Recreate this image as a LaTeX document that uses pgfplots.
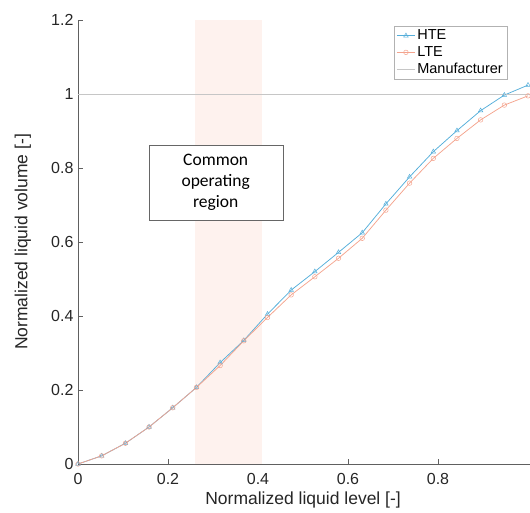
\documentclass[border=0pt]{standalone}
\usepackage{pgfplots}
\pgfplotsset{compat=1.18}
\usepackage{fontspec}
\setmainfont{Liberation Sans}
\newfontfamily\calib{Carlito}
\definecolor{hte}{HTML}{55AEDA}
\definecolor{lte}{HTML}{F4A48E}
\definecolor{shade}{HTML}{FEF2EE}
\definecolor{axc}{HTML}{606060}
\begin{document}
\begin{tikzpicture}
\path[use as bounding box] (-78pt,-49pt) rectangle (452pt,464pt);
\begin{axis}[
  at={(0,0)}, anchor=south west,
  scale only axis, width=452pt, height=444pt,
  xmin=0, xmax=1.0044, ymin=0, ymax=1.2,
  axis lines=left, axis line style={-, axc, line width=0.8pt},
  xtick={0,0.2,0.4,0.6,0.8}, ytick={0,0.2,0.4,0.6,0.8,1,1.2},
  xticklabels={0,0.2,0.4,0.6,0.8},
  yticklabels={0,0.2,0.4,0.6,0.8,1,1.2},
  tick align=inside, major tick length=5pt, tick style={axc, line width=0.6pt},
  ticklabel style={font=\fontsize{16}{18}\selectfont, text=black!85},
  xticklabel style={yshift=-6pt},
  yticklabel style={xshift=-1pt},
  /pgf/number format/assume math mode=true,
  xlabel={Normalized liquid level [-]},
  ylabel={Normalized liquid volume [-]},
  label style={font=\fontsize{17.5}{20}\selectfont, text=black!85},
  xlabel style={at={(axis description cs:0.498,-0.080)}, anchor=center},
  ylabel style={at={(axis description cs:-0.122,0.5)}, anchor=center, rotate=0},
  legend style={at={(0.949,0.987)}, anchor=north east, draw=gray!60,
    font=\fontsize{14.5}{16}\selectfont, row sep=1.2pt, inner sep=2pt,
    cells={anchor=west}},
  legend image code/.code={\draw[#1] (0pt,0pt) -- (18pt,0pt); \path[#1,only marks] plot coordinates {(9pt,0pt)};},
]
\addplot[fill=shade, draw=none, forget plot] coordinates {(0.26,0) (0.408,0) (0.408,1.2) (0.26,1.2)} -- cycle;
\addplot[hte, line width=0.75pt, mark=triangle, mark size=2.6pt, mark options={solid, line width=0.5pt}] coordinates {
(0,0) (0.0526,0.022) (0.1053,0.056) (0.1579,0.100) (0.2105,0.152) (0.2632,0.207)
(0.3158,0.274) (0.3684,0.334) (0.4211,0.405) (0.4737,0.470) (0.5263,0.520)
(0.5789,0.572) (0.6316,0.625) (0.6842,0.703) (0.7368,0.776) (0.7895,0.844)
(0.8421,0.901) (0.8947,0.955) (0.9474,0.997) (1.0,1.024)};
\addlegendentry{HTE}
\addplot[lte, line width=0.75pt, mark=o, mark size=2.3pt, mark options={solid, line width=0.5pt}] coordinates {
(0,0) (0.0526,0.022) (0.1053,0.056) (0.1579,0.100) (0.2105,0.152) (0.2632,0.207)
(0.3158,0.266) (0.3684,0.333) (0.4211,0.396) (0.4737,0.457) (0.5263,0.506)
(0.5789,0.556) (0.6316,0.610) (0.6842,0.686) (0.7368,0.759) (0.7895,0.826)
(0.8421,0.880) (0.8947,0.930) (0.9474,0.970) (1.0,0.995)};
\addlegendentry{LTE}
\addplot[gray!45, line width=0.7pt] coordinates {(0,1) (1.0044,1)};
\addlegendentry{Manufacturer}
\node[draw=gray!80!black, fill=white, align=center, font=\calib\fontsize{17.5}{21}\selectfont,
  minimum width=134pt, minimum height=75pt, inner sep=2pt] at (axis cs:0.306,0.761)
  {Common\\operating\\region};
\end{axis}
\end{tikzpicture}
\end{document}
